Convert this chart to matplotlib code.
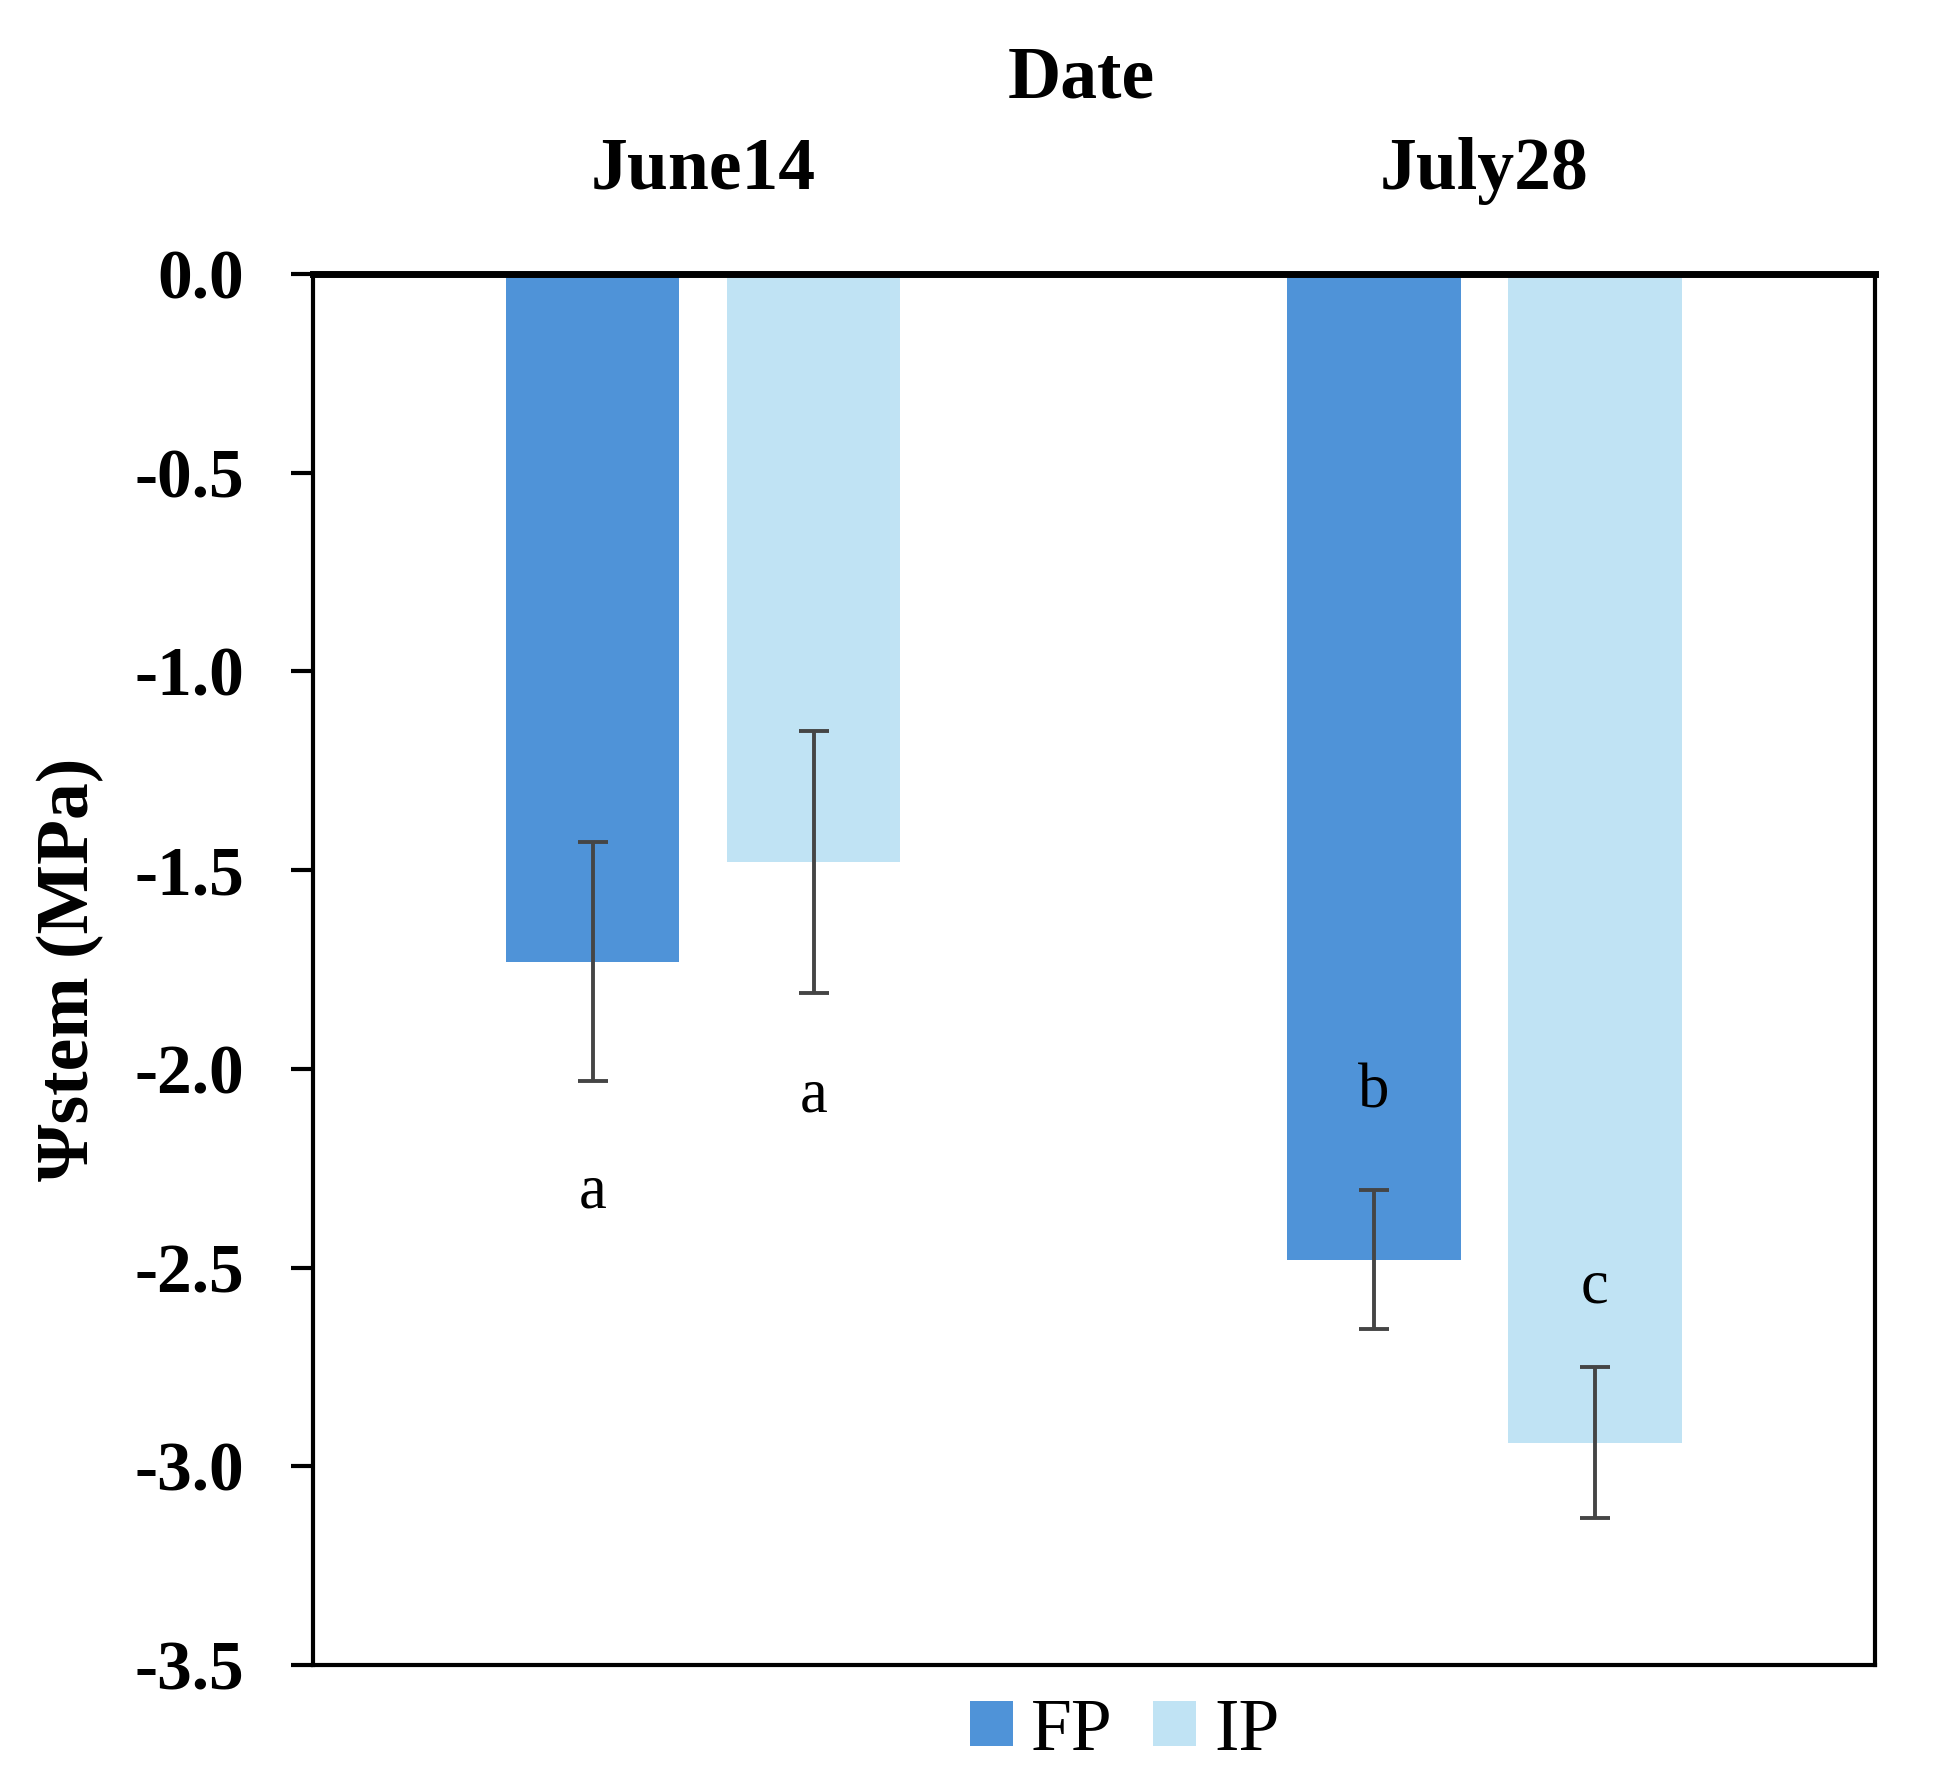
import matplotlib
matplotlib.use('Agg')
import matplotlib.pyplot as plt
from matplotlib.ticker import StrMethodFormatter
import numpy as np

dates = ['June14', 'July28']
fp_mean = [-1.73, -2.48]
ip_mean = [-1.48, -2.94]
fp_err = [0.30, 0.175]
ip_err = [0.33, 0.19]
fp_letters = ['a', 'b']
ip_letters = ['a', 'c']
fp_letter_y = [-2.31, -2.06]
ip_letter_y = [-2.07, -2.55]

FP_COLOR = '#4F93D8'
IP_COLOR = '#C0E3F4'

plt.rcParams['font.family'] = ['Liberation Serif', 'DejaVu Serif']
plt.rcParams['axes.unicode_minus'] = False

fig = plt.figure(figsize=(19.41, 17.79), dpi=100)
ax = fig.add_axes([0.161, 0.064, 0.805, 0.782])

x = np.arange(len(dates))
w = 0.222
off = 0.1414
ax.bar(x - off, fp_mean, w, color=FP_COLOR, label='FP')
ax.bar(x + off, ip_mean, w, color=IP_COLOR, label='IP')
for xs, m, e in [(x - off, fp_mean, fp_err), (x + off, ip_mean, ip_err)]:
    ax.errorbar(xs, m, yerr=e, fmt='none', ecolor='#454545',
                elinewidth=2.8, capsize=11, capthick=2.8)

# significance letters
for i in range(len(dates)):
    ax.text(x[i] - off, fp_letter_y[i], fp_letters[i], ha='center', va='center', fontsize=45)
    ax.text(x[i] + off, ip_letter_y[i], ip_letters[i], ha='center', va='center', fontsize=45)

ax.set_xlim(-0.5, 1.5)
ax.set_ylim(-3.5, 0)
ax.set_yticks(np.arange(-3.5, 0.01, 0.5))
ax.yaxis.set_major_formatter(StrMethodFormatter('{x:.1f}'))
ax.tick_params(axis='y', labelsize=50, width=3, length=16, direction='out', pad=33)
for lab in ax.get_yticklabels():
    lab.set_fontweight('bold')

ax.xaxis.tick_top()
ax.xaxis.set_label_position('top')
ax.set_xticks(x)
ax.set_xticklabels(dates, fontsize=53, fontweight='bold')
ax.tick_params(axis='x', length=0, pad=50)
ax.set_xlabel('Date', fontsize=53, fontweight='bold')
ax.xaxis.set_label_coords(0.492, 1.127)
ax.xaxis.label.set_verticalalignment('baseline')
ax.set_ylabel('Ψstem (MPa)', fontsize=53, fontweight='bold', labelpad=22)

for s in ax.spines.values():
    s.set_linewidth(3)
ax.spines['top'].set_linewidth(5)

ax.legend(loc='upper center', bbox_to_anchor=(0.52, 0.024), ncol=2, frameon=False,
          fontsize=53, handlelength=0.58, handleheight=0.58, handletextpad=0.25,
          columnspacing=0.55)

fig.savefig('out.png', dpi=100)
